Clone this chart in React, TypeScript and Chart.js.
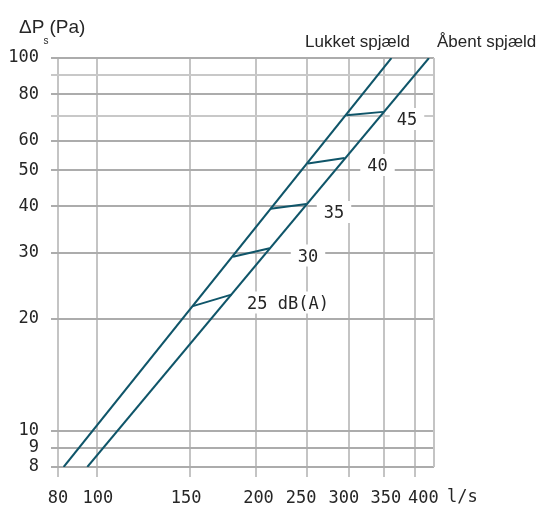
import React, { useEffect, useRef } from 'react';
import { Chart, registerables } from 'chart.js';

Chart.register(...registerables);

// ---- Data (flow q in l/s, pressure drop in Pa) ----
const X_MIN = 84.2;
const X_MAX = 435.3;
const Y_MIN = 8;
const Y_MAX = 100;

const X_TICK_VALUES = [X_MIN, 100, 150, 200, 250, 300, 350, 400];
const X_TICK_LABELS = ['80', '100', '150', '200', '250', '300', '350', '400'];
const Y_TICK_VALUES = [8, 9, 10, 20, 30, 40, 50, 60, 70, 80, 90, 100];
const Y_TICK_LABELS = ['8', '9', '10', '20', '30', '40', '50', '60', '', '80', '', '100'];

const SERIES_NAMES = ['Lukket spjæld', 'Åbent spjæld'];
const LUKKET_Q = [86.3, 361.4];
const LUKKET_P = [8, 100];
const AABENT_Q = [95.7, 425.8];
const AABENT_P = [8, 100];

const DB_LABELS = ['25 dB(A)', '30', '35', '40', '45'];
const DB_Q_CLOSED = [151.8, 180.9, 213.2, 250.9, 296.9];
const DB_P_CLOSED = [21.6, 29.3, 39.4, 52.1, 70.2];
const DB_Q_OPEN = [179.6, 212.3, 249.3, 294.6, 348.3];
const DB_P_OPEN = [23.2, 30.9, 40.6, 53.9, 71.7];

// ---- Styling ----
const LINE_COLOR = '#0f5569';
const GRID_X = '#c4c4c4';
const GRID_Y_MAJOR = '#acacac';
const GRID_Y_MINOR = '#c8c8c8';
const TEXT = '#262626';
const MONO = '"DejaVu Sans Mono", "Liberation Mono", monospace';
const SANS = '"Liberation Sans", Arial, sans-serif';
// horizontal nudges of x tick labels (px), as set in the original artwork
const X_LABEL_SHIFT = [0, 0.5, -4, 2.5, -6, -5, 1.7, 8.7];

// pixel anchors for annotation text (centers)
const DB_LABEL_POS: [number, number][] = [
  [288, 303.5],
  [308, 256.5],
  [334, 213],
  [377.5, 166],
  [407, 120],
];

const annotPlugin = {
  id: 'annot',
  beforeDraw(chart: any) {
    const s = chart.scales.x;
    const items = s.getLabelItems();
    if (!(items as any).__shifted) {
      items.forEach((it: any, i: number) => {
        if (it.options && it.options.translation) it.options.translation[0] += X_LABEL_SHIFT[i] || 0;
      });
      (items as any).__shifted = true;
    }
  },
  beforeDatasetsDraw(chart: any) {
    const { ctx, chartArea } = chart;
    ctx.save();
    // right border of plot frame
    ctx.strokeStyle = GRID_X;
    ctx.lineWidth = 2;
    ctx.beginPath();
    ctx.moveTo(chartArea.right, chartArea.top);
    ctx.lineTo(chartArea.right, chartArea.bottom);
    ctx.stroke();
    // dB labels with white background
    ctx.font = '17px ' + MONO;
    ctx.textAlign = 'center';
    ctx.textBaseline = 'middle';
    DB_LABELS.forEach((t, i) => {
      const [cx, cy] = DB_LABEL_POS[i];
      const w = ctx.measureText(t).width;
      ctx.fillStyle = '#ffffff';
      ctx.fillRect(cx - w / 2 - 7, cy - 12, w + 14, 22);
      ctx.fillStyle = TEXT;
      ctx.fillText(t, cx, cy + 1);
    });
    ctx.restore();
  },
  afterDraw(chart: any) {
    const { ctx } = chart;
    ctx.save();
    ctx.fillStyle = TEXT;
    ctx.textBaseline = 'alphabetic';
    ctx.textAlign = 'left';
    // y-axis title ΔPs(Pa)
    ctx.font = '19px ' + SANS;
    ctx.fillText('ΔP', 19, 32.5);
    ctx.font = '10px ' + SANS;
    ctx.fillText('s', 43.5, 44);
    ctx.font = '19px ' + SANS;
    ctx.fillText('(Pa)', 49.5, 32.5);
    // series names
    ctx.font = '17px ' + SANS;
    ctx.fillText(SERIES_NAMES[0], 305, 46.5);
    ctx.fillText(SERIES_NAMES[1], 437, 46.5);
    // x unit
    ctx.font = '17px ' + MONO;
    ctx.textBaseline = 'middle';
    ctx.fillText('l/s', 447, 498);
    ctx.restore();
  },
};

function pts(xs: number[], ys: number[]) {
  return xs.map((x, i) => ({ x, y: ys[i] }));
}

export default function App() {
  const ref = useRef<HTMLCanvasElement | null>(null);

  useEffect(() => {
    if (!ref.current) return;
    const lineStyle = {
      borderColor: LINE_COLOR,
      backgroundColor: LINE_COLOR,
      borderWidth: 2,
      pointRadius: 0,
      showLine: true,
      fill: false,
      tension: 0,
    };
    const datasets: any[] = [
      { label: SERIES_NAMES[0], data: pts(LUKKET_Q, LUKKET_P), ...lineStyle },
      { label: SERIES_NAMES[1], data: pts(AABENT_Q, AABENT_P), ...lineStyle },
      ...DB_LABELS.map((l, i) => ({
        label: l,
        data: [
          { x: DB_Q_CLOSED[i], y: DB_P_CLOSED[i] },
          { x: DB_Q_OPEN[i], y: DB_P_OPEN[i] },
        ],
        ...lineStyle,
      })),
    ];

    const chart = new Chart(ref.current, {
      type: 'scatter',
      data: { datasets },
      options: {
        animation: false,
        responsive: false,
        layout: { padding: { left: 0, top: 58, right: 105, bottom: 0 } },
        plugins: { legend: { display: false }, tooltip: { enabled: false } },
        scales: {
          x: {
            type: 'logarithmic',
            min: X_MIN,
            max: X_MAX,
            afterBuildTicks: (s: any) => {
              s.ticks = X_TICK_VALUES.map((v) => ({ value: v }));
            },
            afterFit: (s: any) => {
              s.height = 38;
            },
            border: { display: false },
            grid: { color: GRID_X, lineWidth: 2, tickLength: 10, drawTicks: true },
            ticks: {
              autoSkip: false,
              maxRotation: 0,
              padding: 11,
              color: TEXT,
              font: { family: MONO, size: 17 },
              callback: (_v: any, i: number) => X_TICK_LABELS[i],
            },
          },
          y: {
            type: 'logarithmic',
            min: Y_MIN,
            max: Y_MAX,
            afterBuildTicks: (s: any) => {
              s.ticks = Y_TICK_VALUES.map((v) => ({ value: v }));
            },
            afterFit: (s: any) => {
              s.width = 58;
            },
            border: { display: false },
            grid: {
              color: (c: any) => (c.tick && Y_TICK_LABELS[c.index] === '' ? GRID_Y_MINOR : GRID_Y_MAJOR),
              lineWidth: 2,
              tickLength: 7,
              drawTicks: true,
            },
            ticks: {
              autoSkip: false,
              padding: 12,
              color: TEXT,
              font: { family: MONO, size: 17 },
              callback: (_v: any, i: number) => Y_TICK_LABELS[i],
            },
          },
        },
      },
      plugins: [annotPlugin],
    } as any);
    return () => chart.destroy();
  }, []);

  return (
    <div style={{ position: 'absolute', left: 0, top: 0, width: 539, height: 505, background: '#fff' }}>
      <canvas ref={ref} width={539} height={505} style={{ display: 'block', width: 539, height: 505 }} />
    </div>
  );
}
